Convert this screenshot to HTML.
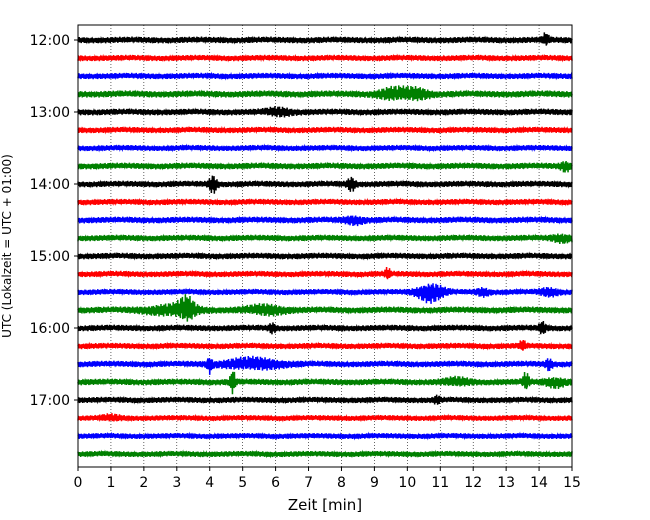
<!DOCTYPE html>
<html><head><meta charset="utf-8"><style>
body{margin:0;background:#fff;}
svg{display:block;font-family:"DejaVu Sans","Liberation Sans",sans-serif;}
</style></head><body>
<svg id="chart" width="650" height="520"></svg>
<script>
// Data
const hourLabels = ["12:00","13:00","14:00","15:00","16:00","17:00"];
const xTicks = [0,1,2,3,4,5,6,7,8,9,10,11,12,13,14,15];
const traceColors = ["#000000","#ff0000","#0000ff","#008000"];
const traceCount = 24;
const baseAmp = [3.4,3.2,3.2,3.6,3.4,3.2,3.1,3.4,3.3,3.2,3.4,3.3,3.3,3.2,3.1,3.5,3.3,3.2,3.3,3.4,3.2,3.0,3.0,3.1];
const eventTrace = [0,3,3,4,8,8,10,13,14,14,14,15,15,15,16,16,17,18,18,18,19,19,19,19,20,7,11,21];
const eventTime  = [14.2,9.6,10.3,6.1,4.1,8.3,8.4,9.4,10.7,12.3,14.3,3.3,2.8,5.7,5.9,14.1,13.5,5.3,4.0,14.3,4.7,11.5,13.6,14.5,10.9,14.8,14.7,1.0];
const eventAmp   = [5,5,4,3,8,6,3,5,9,3,3,10,4,4,4,5,4,5,7,5,11,3,8,4,3,4,3,2];
const eventWidth = [0.1,0.5,0.4,0.4,0.12,0.12,0.3,0.08,0.4,0.2,0.3,0.25,0.8,0.6,0.1,0.1,0.1,0.9,0.08,0.1,0.08,0.4,0.1,0.3,0.1,0.15,0.3,0.3];

const svg=document.getElementById('chart');
const NS="http://www.w3.org/2000/svg";
const X0=78,X1=572,Y0=25,Y1=467,firstY=40,step=18;
const xs=t=>X0+(t/15)*(X1-X0);
const ys=i=>firstY+i*step;
function mk(tag,attrs,parent){const e=document.createElementNS(NS,tag);for(const k in attrs)e.setAttribute(k,attrs[k]);(parent||svg).appendChild(e);return e;}

const grid=mk('g',{});


xTicks.forEach(t=>{if(t>0&&t<15)mk('line',{x1:xs(t),x2:xs(t),y1:Y0,y2:Y1,stroke:'#000','stroke-width':0.6,'stroke-dasharray':'1,2'},grid);});

const tr=mk('g',{});


for(let i=0;i<traceCount;i++){
  let d='';const N=1500;
  for(let k=0;k<=N;k++){
    const t=15*k/N;
    let env=baseAmp[i];
    for(let e=0;e<eventTrace.length;e++){
      if(eventTrace[e]!==i)continue;
      const z=(t-eventTime[e])/eventWidth[e];
      env+=eventAmp[e]*Math.exp(-z*z);
    }
    const w=Math.sin(k*2.71+i*1.3)*0.6+Math.sin(k*1.37+i*0.7)*0.4;
    const y=ys(i)+env*w;
    d+=(k?'L':'M')+xs(t).toFixed(2)+' '+y.toFixed(2);
  }
  const p=mk('path',{d:d,fill:'none',stroke:traceColors[i%4],'stroke-width':1.5},tr);
  
  
}

const fr=mk('rect',{x:X0,y:Y0,width:X1-X0,height:Y1-Y0,fill:'none',stroke:'#000','stroke-width':1});



xTicks.forEach(t=>{
  mk('line',{x1:xs(t),x2:xs(t),y1:Y1,y2:Y1+4,stroke:'#000'});
  const tx=mk('text',{x:xs(t),y:Y1+20,'text-anchor':'middle','font-size':14});
  tx.textContent=t;
  
  
});
hourLabels.forEach((h,j)=>{
  const y=ys(j*4);
  mk('line',{x1:X0-4,x2:X0,y1:y,y2:y,stroke:'#000'});
  const tx=mk('text',{x:X0-8,y:y+5,'text-anchor':'end','font-size':14});
  tx.textContent=h;
  
  
});
const xt=mk('text',{x:325,y:510,'text-anchor':'middle','font-size':15});
xt.textContent='Zeit  [min]';xt.setAttribute('xml:space','preserve');


const yt=mk('text',{x:0,y:0,'text-anchor':'middle','font-size':12,transform:'translate(11,246) rotate(-90)'});
yt.textContent='UTC (Lokalzeit = UTC + 01:00)';


</script>
</body></html>
